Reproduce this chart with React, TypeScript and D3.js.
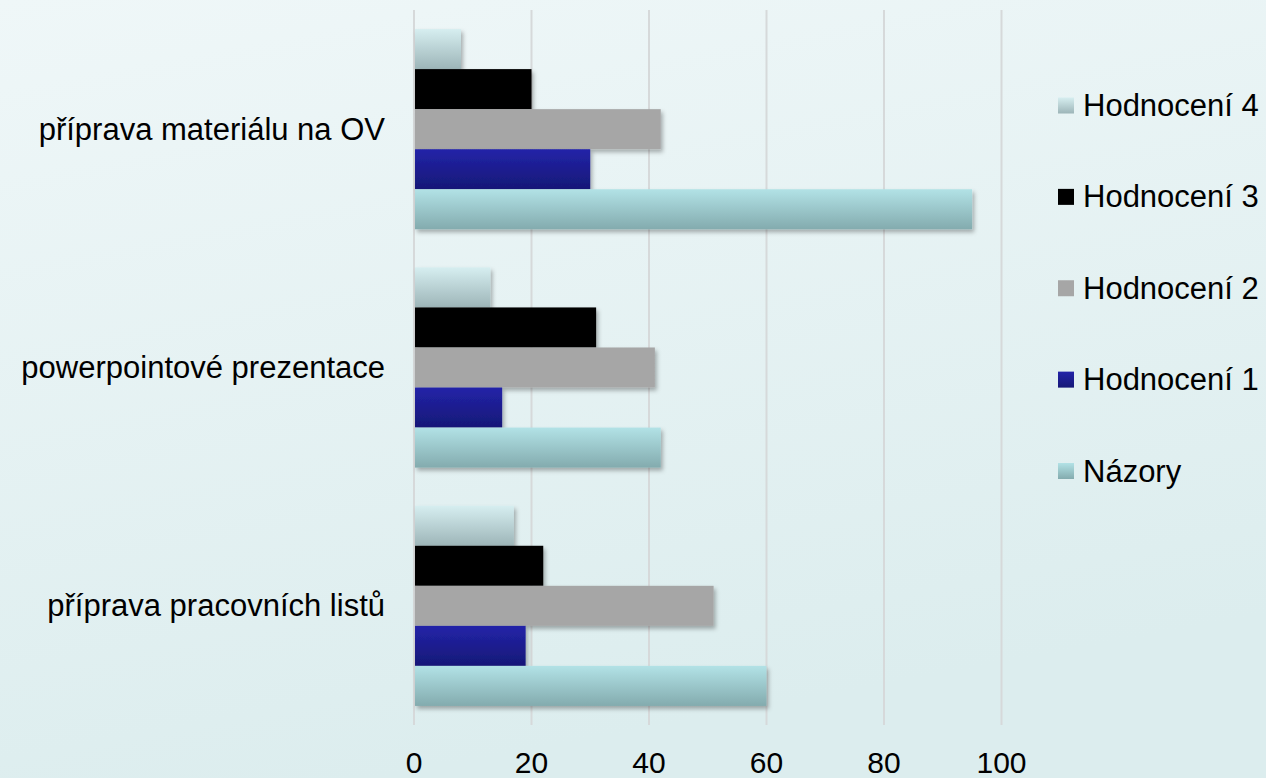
import React from "react";
import * as d3 from "d3";

// categories (top to bottom) and series (top to bottom within a group)
const categories = [
  "příprava materiálu na OV",
  "powerpointové prezentace",
  "příprava pracovních listů",
];
const seriesNames = ["Hodnocení 4", "Hodnocení 3", "Hodnocení 2", "Hodnocení 1", "Názory"];

const hodnoceni4 = [8, 13, 17];
const hodnoceni3 = [20, 31, 22];
const hodnoceni2 = [42, 41, 51];
const hodnoceni1 = [30, 15, 19];
const nazory = [95, 42, 60];

const xTicks = [0, 20, 40, 60, 80, 100];

const W = 1266;
const H = 778;
const margin = { top: 10, bottom: 53, left: 414, right: 264.5 };

// gradient stops per series: [top, bottom]
const fills: [string, string][] = [
  ["#d6eef0", "#9db5b8"],
  ["#000000", "#000000"],
  ["#a6a6a6", "#a6a6a6"],
  ["#2323a8", "#161877"],
  ["#b2e2e6", "#83abae"],
];

export default function App() {
  const seriesValues = [hodnoceni4, hodnoceni3, hodnoceni2, hodnoceni1, nazory];

  const x = d3
    .scaleLinear()
    .domain([0, 100])
    .range([margin.left, W - margin.right]);

  const y0 = d3
    .scaleBand<string>()
    .domain(categories)
    .range([margin.top, H - margin.bottom])
    .paddingInner(0.16)
    .paddingOuter(0.08);

  const y1 = d3
    .scaleBand<string>()
    .domain(seriesNames)
    .range([0, y0.bandwidth()]);

  const legendY = d3
    .scalePoint<string>()
    .domain(seriesNames)
    .range([105.5, 471]);

  const font = "'Liberation Sans', Arial, sans-serif";

  return (
    <svg
      width={W}
      height={H}
      style={{ position: "absolute", left: 0, top: 0, display: "block" }}
    >
      <defs>
        <linearGradient id="bg" x1="0" y1="0" x2="0.3" y2="1">
          <stop offset="0" stopColor="#eff7f8" />
          <stop offset="1" stopColor="#dcedee" />
        </linearGradient>
        {fills.map((f, i) => (
          <linearGradient key={i} id={`g${i}`} x1="0" y1="0" x2="0" y2="1">
            <stop offset="0" stopColor={f[0]} />
            <stop offset="1" stopColor={f[1]} />
          </linearGradient>
        ))}
        <filter id="shadow" x="-10%" y="-20%" width="130%" height="160%">
          <feDropShadow dx="2" dy="3" stdDeviation="2" floodColor="#000" floodOpacity="0.3" />
        </filter>
      </defs>

      <rect x={0} y={0} width={W} height={H} fill="url(#bg)" />

      {/* gridlines */}
      {xTicks.map((t) => (
        <line
          key={t}
          x1={x(t)}
          x2={x(t)}
          y1={margin.top}
          y2={H - margin.bottom}
          stroke="#d6d9da"
          strokeWidth={2}
        />
      ))}

      {/* bars */}
      {categories.map((c, ci) => (
        <g key={c} transform={`translate(0,${y0(c)})`}>
          {seriesNames.map((s, si) => (
            <rect
              key={s}
              x={x(0) + 1}
              y={y1(s)}
              width={x(seriesValues[si][ci]) - x(0) - 1}
              height={y1.bandwidth()}
              fill={`url(#g${si})`}
              filter="url(#shadow)"
            />
          ))}
        </g>
      ))}

      {/* category labels */}
      {categories.map((c) => (
        <text
          key={c}
          x={385}
          y={(y0(c) as number) + y0.bandwidth() / 2}
          textAnchor="end"
          dominantBaseline="central"
          fontFamily={font}
          fontSize={31}
          fill="#000"
        >
          {c}
        </text>
      ))}

      {/* x tick labels */}
      {xTicks.map((t) => (
        <text
          key={t}
          x={x(t)}
          y={773}
          textAnchor="middle"
          fontFamily={font}
          fontSize={30}
          fill="#000"
        >
          {t}
        </text>
      ))}

      {/* legend */}
      {seriesNames.map((s, si) => (
        <g key={s} transform={`translate(1058,${legendY(s)})`}>
          <rect x={0} y={-8} width={16} height={16} fill={`url(#g${si})`} />
          <text
            x={25}
            y={0}
            dominantBaseline="central"
            fontFamily={font}
            fontSize={31}
            fill="#000"
          >
            {s}
          </text>
        </g>
      ))}
    </svg>
  );
}
